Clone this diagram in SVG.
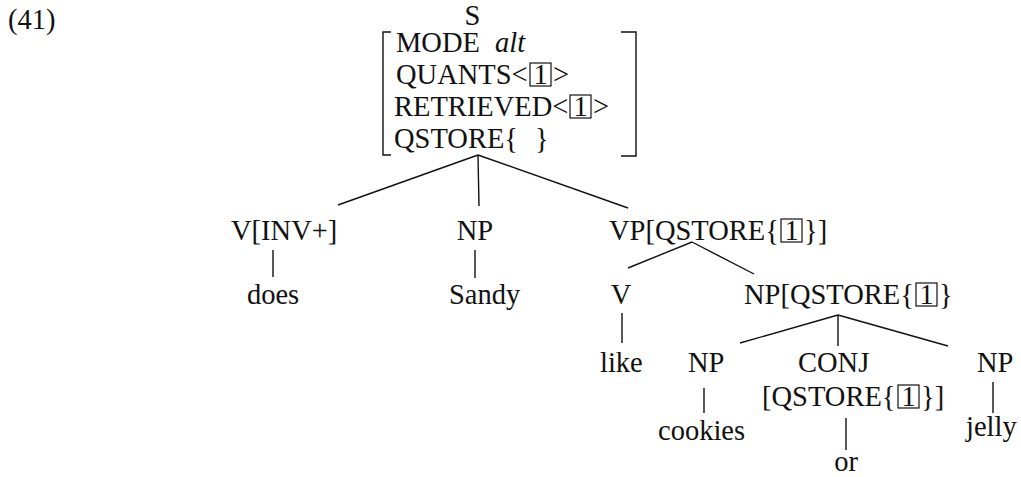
<svg xmlns="http://www.w3.org/2000/svg" width="1021" height="477" viewBox="0 0 1021 477">
<style>
text{font-family:"Liberation Serif","Times New Roman",serif;font-size:28.5px;fill:#111}
.m{text-anchor:middle}
.it{font-style:italic}
.box{fill:none;stroke:#111;stroke-width:1.2}
.ln{fill:none;stroke:#111;stroke-width:1.4}
</style>
<rect width="1021" height="477" fill="#fff"/>
<text x="8" y="29">(41)</text>
<g id="S">
<text class="m" x="472.5" y="25">S</text>
<polyline class="ln" points="391,32 383,32 383,155 391,155"/>
<polyline class="ln" points="621,32 636,32 636,156 621,156"/>
<text x="396" y="52">MODE</text><text class="it" x="495" y="52">alt</text>
<text x="396" y="84">QUANTS&lt;</text><rect class="box" x="530" y="63" width="21" height="23"/><text class="m" x="540.5" y="84">1</text><text x="553" y="84">&gt;</text>
<text x="394" y="116">RETRIEVED&lt;</text><rect class="box" x="570" y="95" width="21" height="23"/><text class="m" x="580.5" y="116">1</text><text x="593" y="116">&gt;</text>
<text x="394" y="148">QSTORE{</text><text x="535" y="148">}</text>
</g>
<g id="Vinv"><text x="231" y="240">V[INV+]</text></g>
<g id="NP1"><text class="m" x="475" y="240">NP</text></g>
<g id="VP"><text x="609" y="240">VP[QSTORE{</text><rect class="box" x="781" y="219" width="21" height="23"/><text class="m" x="791.5" y="240">1</text><text x="804" y="240">}]</text></g>
<g id="does"><text class="m" x="273" y="304">does</text></g>
<g id="Sandy"><text x="449" y="304">Sandy</text></g>
<g id="V"><text class="m" x="621" y="304">V</text></g>
<g id="NPq"><text x="744" y="304">NP[QSTORE{</text><rect class="box" x="916" y="283" width="21" height="23"/><text class="m" x="926.5" y="304">1</text><text x="939" y="304">}</text></g>
<g id="like"><text x="600" y="372">like</text></g>
<g id="NP2"><text x="688" y="372">NP</text></g>
<g id="CONJ"><text x="798" y="372">CONJ</text><text x="762" y="406">[QSTORE{</text><rect class="box" x="898" y="385" width="21" height="23"/><text class="m" x="908.5" y="406">1</text><text x="921" y="406">}]</text></g>
<g id="NP3"><text x="977" y="372">NP</text></g>
<g id="cookies"><text x="658" y="440">cookies</text></g>
<g id="jelly"><text x="966" y="436">jelly</text></g>
<g id="or"><text class="m" x="846" y="471">or</text></g>
<g id="connectors">
<line class="ln" x1="478" y1="155" x2="338" y2="205"/>
<line class="ln" x1="478" y1="155" x2="479" y2="206"/>
<line class="ln" x1="478" y1="155" x2="628" y2="208"/>
<line class="ln" x1="273" y1="250" x2="273" y2="277"/>
<line class="ln" x1="475" y1="250" x2="475" y2="278"/>
<line class="ln" x1="692" y1="242" x2="628" y2="268"/>
<line class="ln" x1="692" y1="242" x2="754" y2="274"/>
<line class="ln" x1="622" y1="313" x2="622" y2="343"/>
<line class="ln" x1="838" y1="315" x2="740" y2="343"/>
<line class="ln" x1="838" y1="315" x2="838" y2="346"/>
<line class="ln" x1="838" y1="315" x2="948" y2="346"/>
<line class="ln" x1="704" y1="388" x2="704" y2="413"/>
<line class="ln" x1="846" y1="418" x2="846" y2="450"/>
<line class="ln" x1="993" y1="382" x2="993" y2="413"/>
</g>
</svg>
